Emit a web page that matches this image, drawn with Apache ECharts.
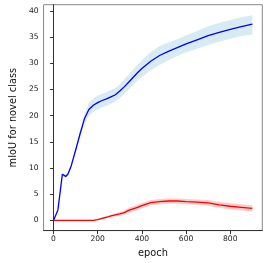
<!DOCTYPE html>
<html>
<head>
<meta charset="utf-8">
<script src="https://cdn.jsdelivr.net/npm/echarts@6/dist/echarts.min.js"></script>
<style>
html,body{margin:0;padding:0;background:#fff;}
#chart{width:267px;height:263px;}
</style>
</head>
<body>
<div id="chart"></div>
<script>
const epochs = [0,20,40,55,65,80,100,120,140,160,180,200,220,240,260,280,300,320,340,360,380,400,440,480,520,560,600,650,700,750,800,850,900];
const blueMean = [0,2.0,8.8,8.4,8.8,10.4,13.4,16.5,19.4,21.2,22.0,22.5,22.9,23.2,23.6,24.0,24.7,25.5,26.4,27.3,28.2,29.0,30.4,31.5,32.3,33.0,33.7,34.5,35.3,35.9,36.5,37.0,37.5];
const blueLow  = [0,1.9,8.5,8.1,8.5,10.1,13.0,15.9,18.5,20.0,20.7,21.2,21.6,21.9,22.3,22.7,23.4,24.1,25.0,25.8,26.7,27.4,28.7,29.7,30.6,31.4,32.1,32.8,33.5,34.1,34.7,35.2,35.5];
const blueHigh = [0,2.1,9.1,8.7,9.1,10.7,13.8,17.1,20.3,22.4,23.3,23.8,24.2,24.5,24.9,25.3,26.0,26.9,27.8,28.8,29.7,30.6,32.1,33.3,34.0,34.6,35.3,36.2,37.1,37.7,38.3,38.8,39.2];
const redMean = [0,0,0,0,0,0,0,0,0,0,0,0.15,0.4,0.6,0.85,1.05,1.25,1.5,1.9,2.2,2.5,2.8,3.4,3.6,3.7,3.7,3.6,3.5,3.35,2.95,2.7,2.5,2.3];
const redLow  = [0,0,0,0,0,0,0,0,0,0,0,0.05,0.25,0.4,0.6,0.75,0.9,1.1,1.45,1.7,2.0,2.3,2.9,3.1,3.2,3.2,3.1,3.0,2.8,2.4,2.1,1.9,1.7];
const redHigh = [0,0,0,0,0,0,0,0,0,0,0,0.25,0.55,0.8,1.1,1.35,1.6,1.9,2.35,2.7,3.0,3.3,3.9,4.1,4.2,4.2,4.1,4.0,3.9,3.5,3.3,3.1,2.9];
const xTicks = [0,200,400,600,800];
const yTicks = [0,5,10,15,20,25,30,35,40];

function band(low, high, color) {
  return {
    type: 'custom', silent: true, z: 1,
    data: epochs.map((x, i) => [x, low[i], high[i]]),
    encode: { x: 0, y: [1, 2] },
    renderItem: function (params, api) {
      if (params.dataIndex !== 0) return;
      const pts = [];
      for (let i = 0; i < epochs.length; i++) pts.push(api.coord([epochs[i], high[i]]));
      for (let i = epochs.length - 1; i >= 0; i--) pts.push(api.coord([epochs[i], low[i]]));
      return { type: 'polygon', shape: { points: pts }, style: { fill: color, stroke: null } };
    }
  };
}
function line(vals, color) {
  return {
    type: 'line', z: 3, showSymbol: false, symbol: 'none',
    data: epochs.map((x, i) => [x, vals[i]]),
    lineStyle: { color: color, width: 1.3 }
  };
}

const chart = echarts.init(document.getElementById('chart'), null, { renderer: 'canvas' });
const font = 'DejaVu Sans';
chart.setOption({
  animation: false,
  grid: { left: 30.3, right: 4.7, top: 4.7, bottom: 29, show: true, borderColor: '#888', borderWidth: 1, backgroundColor: 'transparent' },
  xAxis: {
    type: 'value', min: -45, max: 945,
    name: 'epoch', nameLocation: 'middle', nameGap: 12.5,
    nameTextStyle: { fontFamily: font, fontSize: 9.8, color: '#111' },
    axisLine: { onZero: false, lineStyle: { color: '#333', width: 1 } },
    axisTick: { length: 3.5, lineStyle: { color: '#333' }, customValues: xTicks },
    axisLabel: { fontFamily: font, fontSize: 7.6, color: '#222', margin: 4.5, customValues: xTicks },
    splitLine: { show: false }
  },
  yAxis: {
    type: 'value', min: -1.95, max: 41.2,
    name: 'mIoU for novel class', nameLocation: 'middle', nameGap: 16,
    nameTextStyle: { fontFamily: font, fontSize: 9.8, color: '#111' },
    axisLine: { show: true, lineStyle: { color: '#333', width: 1 } },
    axisTick: { show: true, length: 3.5, lineStyle: { color: '#333' }, customValues: yTicks },
    axisLabel: { fontFamily: font, fontSize: 7.6, color: '#222', margin: 5, customValues: yTicks },
    splitLine: { show: false }
  },
  series: [
    band(blueLow, blueHigh, 'rgba(173,216,230,0.5)'),
    band(redLow, redHigh, 'rgba(255,0,0,0.2)'),
    line(blueMean, '#0000ff'),
    line(redMean, '#ff0000')
  ]
});
</script>
</body>
</html>
